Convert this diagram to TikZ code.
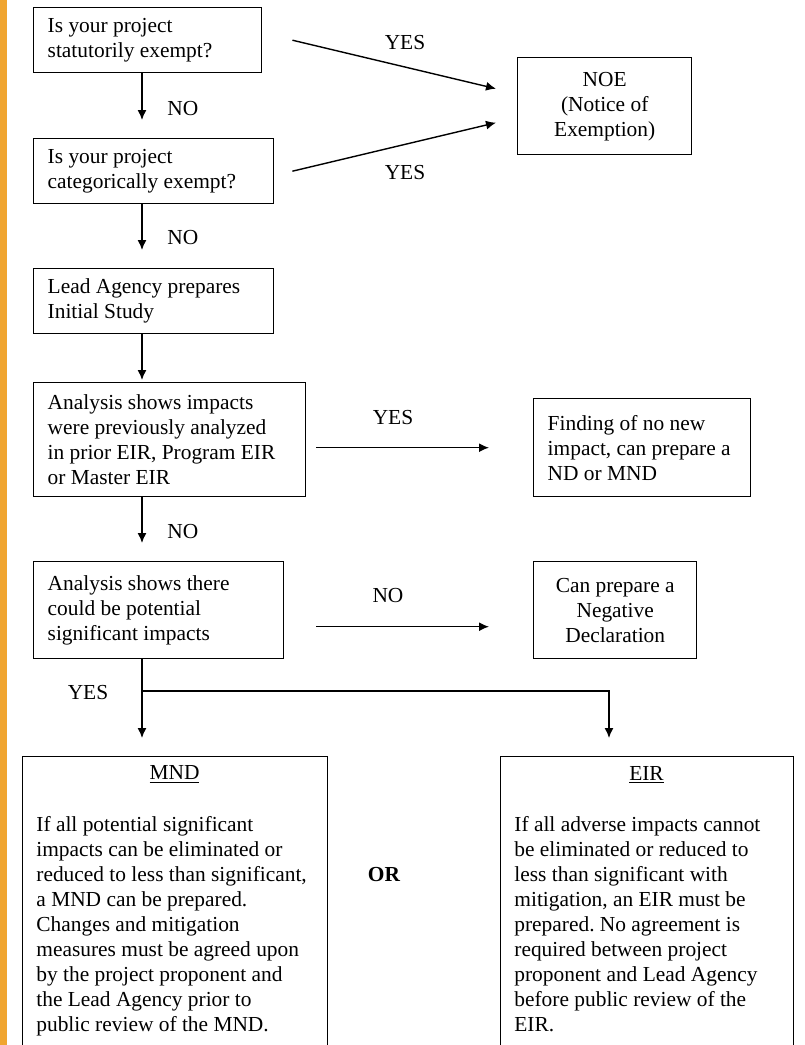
\documentclass[tikz,border=0pt]{standalone}
\usepackage{fontspec}
\setmainfont{Liberation Serif}
\usetikzlibrary{arrows.meta}
\definecolor{barorange}{RGB}{240,165,48}
\frenchspacing
\tikzset{
	box/.style={draw, line width=0.7pt, anchor=north west, inner xsep=7pt, align=flush left},
	cbox/.style={draw, line width=0.7pt, anchor=north west, align=center},
	flow/.style={-{Latex[length=5pt,width=4.5pt]}, line width=0.7pt},
}
\begin{document}
\begin{tikzpicture}[x=0.5pt, y=-0.5pt, font=\fontsize{10.7}{12.5}\selectfont]
		% page and side bar
		\useasboundingbox (0,0) rectangle (804,1045);
		\fill[white] (0,0) rectangle (804,1045);
		\fill[barorange] (0,0) rectangle (7,1045);
		\coordinate (spine) at (142,0);
		% questions on the left
		\node[box, text width=100pt, minimum height=32.5pt] (stat) at (33,7) {Is your project\\statutorily exempt?};
		\node[box, text width=106pt, minimum height=32.5pt] (cat) at (33,138) {Is your project\\categorically exempt?};
		\node[box, text width=106pt, minimum height=32.5pt] (lead) at (33,268) {Lead Agency prepares\\Initial Study};
		\node[box, text width=122pt, minimum height=57pt] (prior) at (33,382) {Analysis shows impacts\\were previously analyzed\\in prior EIR, Program EIR\\or Master EIR};
		\node[box, text width=111pt, minimum height=48.5pt] (sig) at (33,561) {Analysis shows there\\could be potential\\significant impacts};
		% outcomes on the right
		\node[cbox, minimum width=87pt, minimum height=48.5pt] (noe) at (517,57) {NOE\\(Notice of\\Exemption)};
		\node[box, text width=94.5pt, minimum height=49pt] (nonew) at (533,398) {Finding of no new\\impact, can prepare a\\ND or MND};
		\node[cbox, minimum width=81.5pt, minimum height=48.5pt] (negdec) at (533,561) {Can prepare a\\Negative\\Declaration};
		% MND or EIR
		\node[draw, line width=0.7pt, anchor=north west, minimum width=152.5pt, minimum height=160pt] (mnd) at (22,756) {};
		\node[draw, line width=0.7pt, anchor=north west, minimum width=146.5pt, minimum height=160pt] (eir) at (500,756) {};
		\node (mndhead) at (174.5,775) {\underline{MND}};
		\node (eirhead) at (646.5,775) {\underline{EIR}};
		\node[anchor=north west, align=left, inner sep=0pt] (mndbody) at (36,816) {If all potential significant\\impacts can be eliminated or\\reduced to less than significant,\\a MND can be prepared.\\Changes and mitigation\\measures must be agreed upon\\by the project proponent and\\the Lead Agency prior to\\public review of the MND.};
		\node[anchor=north west, align=left, inner sep=0pt] (eirbody) at (514,816) {If all adverse impacts cannot\\be eliminated or reduced to\\less than significant with\\mitigation, an EIR must be\\prepared. No agreement is\\required between project\\proponent and Lead Agency\\before public review of the\\EIR.};
		\node (or) at (384,875) {\textbf{OR}};
		% down the spine
		\draw[flow, shorten >=9pt] (stat.south -| spine) -- (cat.north -| spine) node[pos=0.55, right=9pt] (no1) {NO};
		\draw[flow, shorten >=9pt] (cat.south -| spine) -- (lead.north -| spine) node[pos=0.52, right=9pt] (no2) {NO};
		\draw[flow, shorten >=1pt] (lead.south -| spine) -- (prior.north -| spine);
		\draw[flow, shorten >=9pt] (prior.south -| spine) -- (sig.north -| spine) node[pos=0.54, right=9pt] (no3) {NO};
		% exempt
		\draw[flow] ([xshift=15pt]stat.east) -- ([xshift=-10.5pt,yshift=8.75pt]noe.west);
		\draw[flow] ([xshift=9pt]cat.east) -- ([xshift=-10.5pt,yshift=-8.25pt]noe.west);
		\node (yes1) at (405,43) {YES};
		\node (yes2) at (405,173) {YES};
		% side exits
		\draw[flow, shorten <=5pt, shorten >=22pt] (prior.east |- nonew.west) -- (nonew.west);
		\node (yes3) at (393,418) {YES};
		\draw[flow, shorten <=16pt, shorten >=22pt] ([yshift=-8.25pt]sig.east) -- ([yshift=-8.25pt]negdec.west);
		\node (no4) at (388,596) {NO};
		% fork to MND / EIR
		\coordinate (fork) at (142,691);
		\coordinate (eirin) at (609,756);
		\draw[flow, shorten >=9pt] (sig.south -| spine) -- (mnd.north -| spine);
		\draw[flow, shorten >=9pt] (fork) -| (eirin);
		\node (yes4) at (88,693) {YES};
\end{tikzpicture}
\end{document}
